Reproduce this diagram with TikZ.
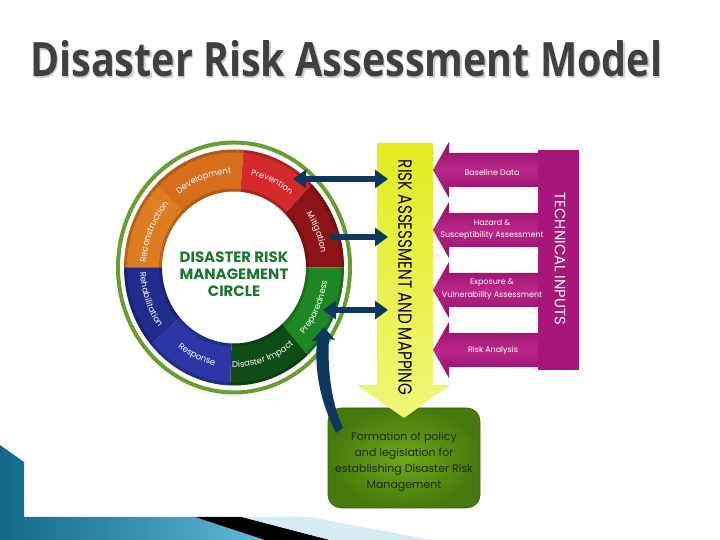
\documentclass[tikz,border=0pt]{standalone}
\usepackage{fontspec}
\setmainfont{Open Sans}
\newfontfamily\gfont{Poppins}
\usetikzlibrary{decorations.text,arrows.meta}
\definecolor{titlegray}{RGB}{64,64,64}
\definecolor{titleshadow}{RGB}{205,205,205}
\definecolor{ringgreen}{RGB}{104,158,48}
\definecolor{cDev}{RGB}{214,110,28}
\definecolor{cRec}{RGB}{222,124,34}
\definecolor{cPrev}{RGB}{212,42,46}
\definecolor{cMit}{RGB}{140,20,22}
\definecolor{cPrep}{RGB}{30,135,36}
\definecolor{cImp}{RGB}{14,78,22}
\definecolor{cResp}{RGB}{44,54,165}
\definecolor{cReh}{RGB}{34,44,140}
\definecolor{circgreen}{RGB}{28,118,44}
\definecolor{yelTop}{RGB}{226,236,30}
\definecolor{yelBot}{RGB}{240,246,120}
\definecolor{mag}{RGB}{168,22,122}
\definecolor{magd}{RGB}{140,14,100}
\definecolor{magl}{RGB}{188,38,138}
\definecolor{navy}{RGB}{12,56,96}
\definecolor{boxl}{RGB}{112,168,26}
\definecolor{boxd}{RGB}{70,122,12}
\definecolor{boxtext}{RGB}{30,40,15}
\definecolor{teald}{RGB}{18,105,135}
\definecolor{teall}{RGB}{95,185,215}
\definecolor{lblue}{RGB}{215,235,242}
\newcommand\labfont{\gfont\fontsize{8.5}{10}\selectfont\color{white}}
\newcommand\ringseg[3]{\fill[#3] (#1:110 and 118) arc[start angle=#1,end angle=#2,x radius=110,y radius=118] -- (#2:72 and 76) arc[start angle=#2,end angle=#1,x radius=72,y radius=76] -- cycle;}
\newcommand\ringlabel[5]{\path[decorate,decoration={text along path,text align=center,text={|\labfont|#5}}] (#1:#3 and #4) arc[start angle=#1,end angle=#2,x radius=#3,y radius=#4];}
\newcommand\magarrow[1]{\shade[top color=magd,bottom color=magd,middle color=magl] (538,#1+17) -- (449,#1+17) -- (449,#1+28) -- (433,#1) -- (449,#1-28) -- (449,#1-17) -- (538,#1-17) -- cycle;}
\tikzset{
  magtext/.style={text=white,font=\gfont\fontsize{8}{12.5}\selectfont,align=center,inner sep=0pt},
  navyline/.style={draw=navy,line width=6pt,{Triangle[length=13pt,width=18pt]}-{Triangle[length=13pt,width=18pt]}},
  navyone/.style={draw=navy,line width=6pt,-{Triangle[length=13pt,width=18pt]}},
}
\begin{document}
\begin{tikzpicture}[x=1pt,y=1pt]
\useasboundingbox (0,0) rectangle (720,540);
\fill[white] (0,0) rectangle (720,540);
% title
\node[anchor=base west,text=titleshadow,inner sep=0pt] at (31.5,461.5) {\resizebox{632pt}{36pt}{\bfseries Disaster Risk Assessment Model}};
\node[anchor=base west,text=titlegray,inner sep=0pt] (title) at (30,463) {\resizebox{632pt}{36pt}{\bfseries Disaster Risk Assessment Model}};
% bottom decoration
\shade[left color=teald,right color=teall] (0,95) -- (24,78) -- (24,23) -- (195,23) -- (265,0) -- (0,0) -- cycle;
\fill[black] (195,23) -- (242,23) -- (330,0) -- (265,0) -- cycle;
\fill[lblue] (242,23) -- (309,23) -- (432,0) -- (330,0) -- cycle;
% circle
\begin{scope}[shift={(234,272.5)}]
  \draw[ringgreen,line width=4pt] (0,0) ellipse[x radius=116,y radius=125];
  \ringseg{135}{180}{cRec}
  \ringseg{85}{135}{cDev}
  \ringseg{45}{85}{cPrev}
  \ringseg{0}{45}{cMit}
  \ringseg{-48}{0}{cPrep}
  \ringseg{-92}{-48}{cImp}
  \ringseg{-139}{-92}{cResp}
  \ringseg{-180}{-139}{cReh}
  \draw[black,opacity=0.18,line width=3pt] (0,0) ellipse[x radius=108.5,y radius=116.5];
  \draw[black,opacity=0.18,line width=3pt] (0,0) ellipse[x radius=73.5,y radius=77.5];
  \ringlabel{189}{125}{88}{94}{Reconstruction}
  \ringlabel{142}{78}{88}{94}{Development}
  \ringlabel{97}{33}{88}{94}{Prevention}
  \ringlabel{54}{-10}{88}{94}{Mitigation}
  \ringlabel{-57}{7}{94}{100}{Preparedness}
  \ringlabel{-103}{-39}{94}{100}{Disaster Impact}
  \ringlabel{-146}{-82}{94}{100}{Response}
  \ringlabel{-192}{-128}{94}{100}{Rehabilitation}
\end{scope}
\node[align=center,text=circgreen,inner sep=0pt,font=\gfont\bfseries\fontsize{15}{17}\selectfont] (dcirc) at (234,265.5) {DISASTER RISK\\MANAGEMENT\\CIRCLE};
% technical inputs
\fill[mag] (538,170) rectangle (579,390);
\magarrow{370}
\magarrow{310}
\magarrow{250}
\magarrow{190}
\node[text=white,rotate=-90,inner sep=0pt] (tech) at (560,281) {\gfont\resizebox{132pt}{10.5pt}{TECHNICAL INPUTS}};
\node[magtext] (bd) at (492,368) {Baseline Data};
\node[magtext] (hz) at (492,310.5) {Hazard \&\\Susceptibility Assessment};
\node[magtext] (ex) at (492,251) {Exposure \&\\Vulnerability Assessment};
\node[magtext] (ra) at (493,190) {Risk Analysis};
% policy box
\node[minimum width=152pt,minimum height=100pt,rounded corners=13pt,inner color=boxl,outer color=boxd,draw=boxd!80!black,line width=0.6pt] (policy) at (404,82) {};
\node[text=boxtext,align=center,inner sep=0pt,font=\gfont\fontsize{11}{16}\selectfont] (policytext) at ([yshift=-4pt]policy.center) {Formation of policy\\and legislation for\\establishing Disaster Risk\\Management};
% yellow arrow
\shade[top color=yelTop,bottom color=yelBot] (377,397) -- (433,397) -- (433,155) -- (450,155) -- (404,122) -- (357,155) -- (377,155) -- cycle;
\node[rotate=-90,inner sep=0pt] (ram) at (405,262.5) {\gfont\resizebox{235pt}{13.5pt}{RISK ASSESSMENT AND MAPPING}};
% navy connectors
\coordinate (a1l) at (293,361); \coordinate (a1r) at (388,361);
\coordinate (a2l) at (330,303); \coordinate (a2r) at (388,303);
\coordinate (a3l) at (323,230); \coordinate (a3r) at (388,230);
\draw[navyline] (a1l) -- (a1r);
\draw[navyone] (a2l) -- (a2r);
\draw[navyline] (a3l) -- (a3r);
% swoosh from policy box to circle
\coordinate (swtail) at (336,107);
\coordinate (swtip) at (324,213);
\fill[navy] (swtail) .. controls (322,135) and (314,165) .. (317,200) -- (311,198) -- (swtip) -- (335,200) -- (329,201) .. controls (327,170) and (332,135) .. (343,112) -- cycle;
\end{tikzpicture}
\end{document}
